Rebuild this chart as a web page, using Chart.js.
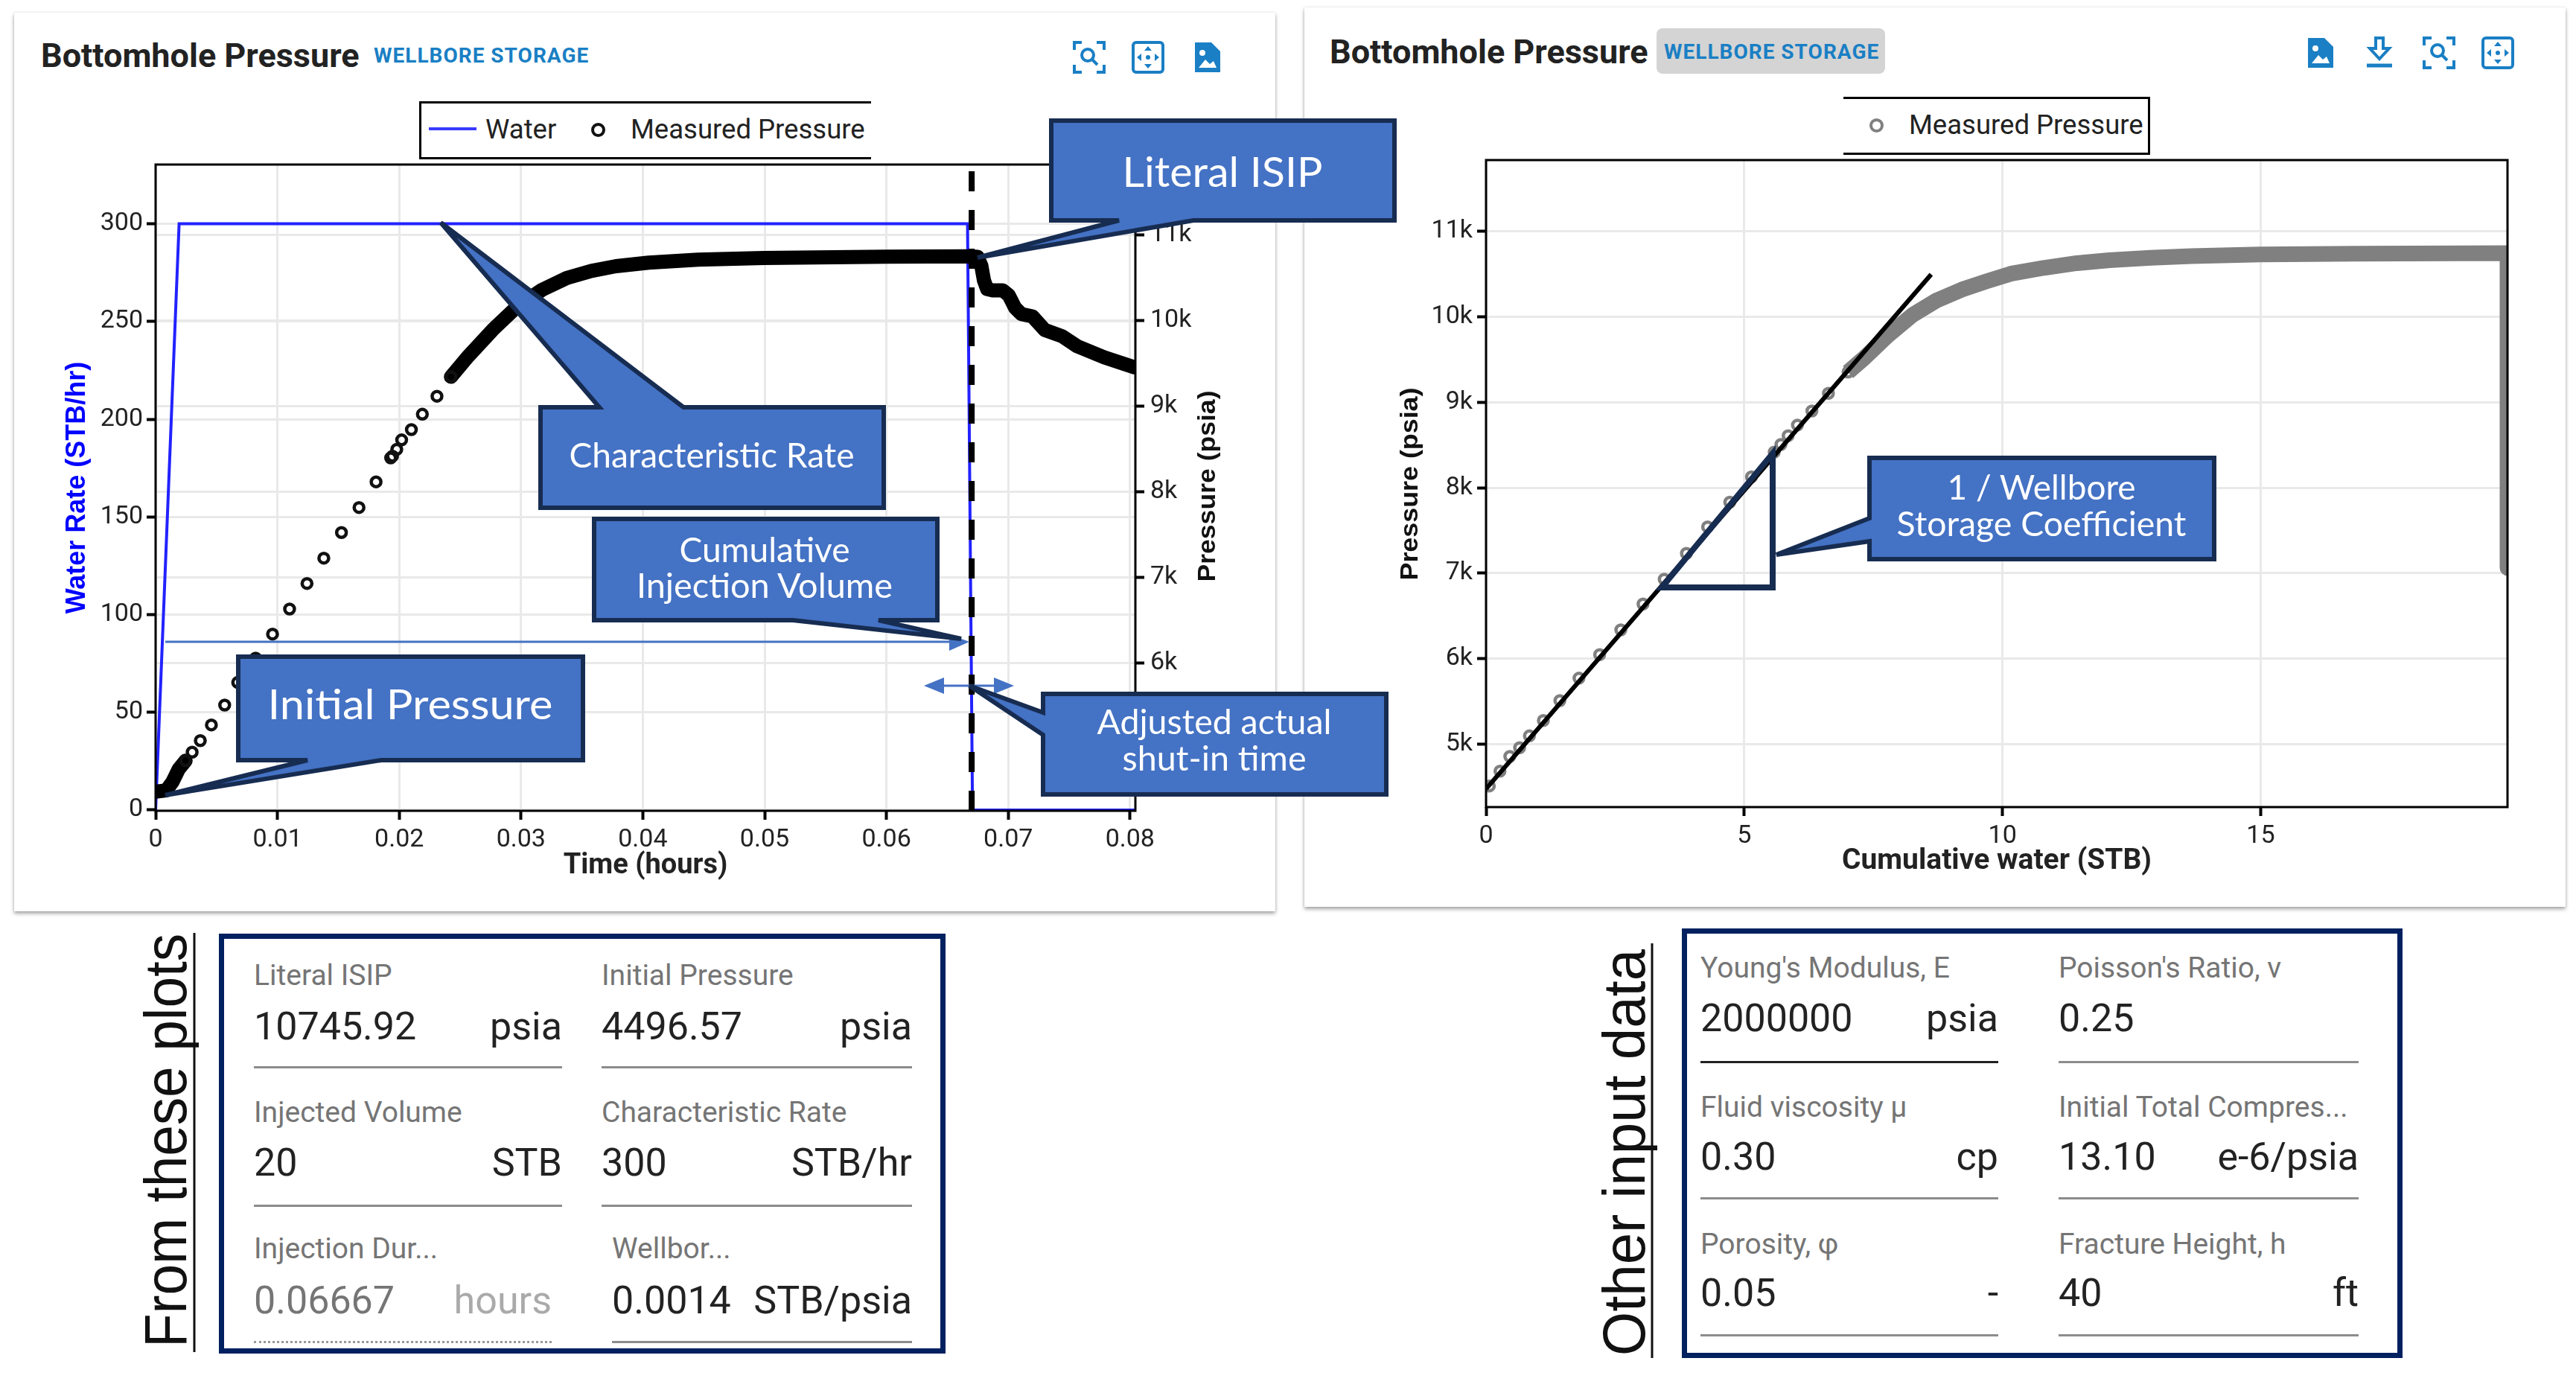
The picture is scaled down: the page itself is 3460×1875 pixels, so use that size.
<!DOCTYPE html>
<html>
<head>
<meta charset="utf-8">
<title>Bottomhole Pressure</title>
<script src="https://cdn.jsdelivr.net/npm/chart.js@4"></script>
<style>
    html, body { margin: 0; padding: 0; background: #fff; }
    #page { position: relative; width: 3460px; height: 1875px; overflow: hidden; font-family: Roboto, sans-serif; }
    .card { position: absolute; background: #fff; box-shadow: 0 3px 5px rgba(0,0,0,0.35), 0 0 3px rgba(0,0,0,0.1); }
    canvas { position: absolute; }
    .abs { position: absolute; white-space: nowrap; }
    .title { font-weight: 700; font-size: 45px; color: #222; line-height: 50px; }
    .badge { font-weight: 700; font-size: 28px; color: #1a7fc4; line-height: 34px; letter-spacing: 1px; }
    .legend-box { border: 3px solid #000; box-sizing: border-box; }
    .legend-text { font-size: 36.5px; color: #222; line-height: 44px; }
    .dot { position: absolute; width: 11px; height: 11px; border-radius: 50%; box-sizing: content-box; }
    .panel { position: absolute; border: 7px solid #002060; box-sizing: border-box; }
    .f-label { font-size: 39px; color: #757575; line-height: 44px; }
    .f-value { font-size: 52px; color: #222; line-height: 62px; }
    #overlay { position: absolute; left: 0; top: 0; }
    #overlay text { font-family: Lato, sans-serif; fill: #fff; text-anchor: middle; dominant-baseline: central; }
    #overlay .side { font-family: "Liberation Sans", sans-serif; fill: #111; font-size: 80px; }
    #overlay .ytitle { font-family: "Liberation Sans", sans-serif; font-weight: 700; fill: #111; font-size: 33px; }
</style>
</head>
<body>
<div id="page">
    <div class="card" style="left:19px;top:17px;width:1694px;height:1207px"></div>
    <div class="card" style="left:1752px;top:10px;width:1694px;height:1208px"></div>

    <div class="abs title" style="left:55px;top:50px">Bottomhole Pressure</div>
    <div class="abs badge" style="left:502px;top:58px">WELLBORE STORAGE</div>
    <div class="abs" style="left:2225px;top:38px;width:307px;height:61px;background:#d4d4d4;border-radius:8px"></div>
    <div class="abs title" style="left:1786px;top:45px">Bottomhole Pressure</div>
    <div class="abs badge" style="left:2235px;top:53px">WELLBORE STORAGE</div>

    <div class="abs legend-box" style="left:563px;top:136px;width:607px;height:78px;border-right:none"></div>
    <div class="abs" style="left:576px;top:171px;width:64px;height:4px;background:#3a3aff"></div>
    <div class="abs legend-text" style="left:652px;top:152px">Water</div>
    <div class="dot" style="left:794px;top:165px;border:4px solid #111"></div>
    <div class="abs legend-text" style="left:847px;top:152px">Measured Pressure</div>

    <div class="abs legend-box" style="left:2476px;top:130px;width:412px;height:78px;border-left:none"></div>
    <div class="dot" style="left:2511px;top:159px;border:4px solid #808080"></div>
    <div class="abs legend-text" style="left:2564px;top:146px">Measured Pressure</div>

    <canvas id="left-chart" width="1660" height="1010" style="left:40px;top:200px"></canvas>
    <canvas id="right-chart" width="1660" height="1010" style="left:1770px;top:190px"></canvas>

    <div class="panel" id="left-panel" style="left:294px;top:1254px;width:976px;height:564px"></div>
    <div class="panel" id="right-panel" style="left:2259px;top:1247px;width:968px;height:577px"></div>

    <svg id="overlay" width="3460" height="1875" xmlns="http://www.w3.org/2000/svg">
        <defs>
            <g id="ic-zoom" fill="none" stroke="#1a7fc4" stroke-width="4">
                <path d="M3 13V3H13M33 3H43V13M43 33V43H33M13 43H3V33"/>
                <circle cx="21" cy="20" r="8"/><path d="M27 26L34 33"/>
            </g>
            <g id="ic-auto">
                <rect x="3" y="3" width="40" height="40" rx="4" fill="none" stroke="#1a7fc4" stroke-width="4"/>
                <path d="M23 8l5 6h-10zM23 38l5-6h-10zM8 23l6-5v10zM38 23l-6-5v10z" fill="#1a7fc4"/>
                <circle cx="23" cy="23" r="3" fill="#1a7fc4"/>
            </g>
            <g id="ic-file">
                <path d="M6 3H28L40 15V43H6Z" fill="#1a7fc4"/>
                <path d="M11 37L20 26L26 32L31 28L35 37Z" fill="#fff"/>
                <circle cx="16" cy="17" r="4" fill="#fff"/>
            </g>
            <g id="ic-down">
                <path d="M18 3H28V17H36L23 31L10 17H18Z" fill="none" stroke="#1a7fc4" stroke-width="4"/>
                <path d="M6 40H40" stroke="#1a7fc4" stroke-width="5"/>
            </g>
        </defs>
        <use href="#ic-zoom" x="1440" y="54"/><use href="#ic-auto" x="1519" y="54"/><use href="#ic-file" x="1599" y="54"/>
        <use href="#ic-file" x="3094" y="48"/><use href="#ic-down" x="3173" y="48"/><use href="#ic-zoom" x="3253" y="48"/><use href="#ic-auto" x="3332" y="48"/>

        <text class="ytitle" transform="translate(1620,653) rotate(-90)" textLength="257" lengthAdjust="spacingAndGlyphs">Pressure (psia)</text>
        <text class="ytitle" transform="translate(1892,650) rotate(-90)" textLength="259" lengthAdjust="spacingAndGlyphs">Pressure (psia)</text>

        <!-- thin arrows -->
        <line x1="222" y1="862" x2="1280" y2="862" stroke="#4472c4" stroke-width="3"/>
        <path d="M1302 862L1275 852V874Z" fill="#4472c4"/>
        <line x1="1262" y1="921" x2="1340" y2="921" stroke="#4472c4" stroke-width="3"/>
        <path d="M1241 921L1268 910V932Z M1362 921L1335 910V932Z" fill="#4472c4"/>

        <g fill="#4472c4" stroke="#172c51" stroke-width="6" stroke-linejoin="miter">
            <path d="M1412 162H1873V296H1603L1313 346L1503 296H1412Z"/>
            <path d="M726 547H805L592 299L918 547H1187V682H726Z"/>
            <path d="M798 697H1259V833H1180L1291 858L1065 833H798Z"/>
            <path d="M320 882H783V1021H512L222 1068L413 1021H320Z"/>
            <path d="M1401 932H1862V1067H1401V987L1302 921L1401 957Z"/>
            <path d="M2511 615H2974V751H2511V727L2386 745L2511 696Z"/>
        </g>
        <path d="M2232 789H2381V609Z" fill="none" stroke="#172c51" stroke-width="8"/>

        <text x="1642" y="229" font-size="56" textLength="269" lengthAdjust="spacingAndGlyphs">Literal ISIP</text>
        <text x="956" y="610" font-size="46" textLength="383" lengthAdjust="spacingAndGlyphs">Characteristic Rate</text>
        <text x="1027" y="737" font-size="46" textLength="229" lengthAdjust="spacingAndGlyphs">Cumulative</text>
        <text x="1027" y="785" font-size="46" textLength="344" lengthAdjust="spacingAndGlyphs">Injection Volume</text>
        <text x="551" y="944" font-size="56" textLength="383" lengthAdjust="spacingAndGlyphs">Initial Pressure</text>
        <text x="1631" y="968" font-size="46" textLength="315" lengthAdjust="spacingAndGlyphs">Adjusted actual</text>
        <text x="1631" y="1017" font-size="46" textLength="247" lengthAdjust="spacingAndGlyphs">shut-in time</text>
        <text x="2742" y="653" font-size="46" textLength="253" lengthAdjust="spacingAndGlyphs">1 / Wellbore</text>
        <text x="2742" y="702" font-size="46" textLength="389" lengthAdjust="spacingAndGlyphs">Storage Coefficient</text>

        <text class="side" transform="translate(222,1532) rotate(-90)" textLength="556" lengthAdjust="spacingAndGlyphs">From these plots</text>
        <line x1="261" y1="1253" x2="261" y2="1816" stroke="#111" stroke-width="3"/>
        <text class="side" transform="translate(2181,1548) rotate(-90)" textLength="546" lengthAdjust="spacingAndGlyphs">Other input data</text>
        <line x1="2219" y1="1267" x2="2219" y2="1824" stroke="#111" stroke-width="3"/>
    </svg>
</div>

<script>
    // Left plot: water rate vs time
    const waterTime = [0, 0.00193, 0.06666, 0.06707, 0.0804];
    const waterRate = [0, 300, 300, 0, 0];

    // shut-in marker
    const shutInTime = [0.067, 0.067];
    const shutInRate = [-0.4, 330];

    // pressure vs time, the separate circles
    const sparseTime = [0.00246, 0.003, 0.00367, 0.00458, 0.00567, 0.00674, 0.00821, 0.0096, 0.011, 0.01243, 0.01381, 0.01526,
        0.0167, 0.0181, 0.0193, 0.01945, 0.0198, 0.0202, 0.0210, 0.0219, 0.0231, 0.02425];
    const sparsePressure = [4863, 4963, 5098, 5281, 5513, 5777, 6061, 6342, 6635, 6933, 7229, 7528,
        7820, 8120, 8400, 8420, 8500, 8610, 8730, 8910, 9120, 9347];

    // pressure vs time, where the circles run together
    const startTime = [0, 0.00087, 0.00139, 0.0019, 0.00246];
    const startPressure = [4502, 4516, 4617, 4765, 4863];
    const plateauTime = [0.02425, 0.02567, 0.02768, 0.02971, 0.03173, 0.03376, 0.03578, 0.0378, 0.04049, 0.04455, 0.04995, 0.06006, 0.0668,
        0.06748, 0.06779, 0.06801, 0.06827, 0.06872, 0.06954, 0.07005, 0.07056, 0.07107, 0.07199, 0.07301, 0.07443, 0.07566, 0.07789, 0.08034];
    const plateauPressure = [9347, 9587, 9896, 10170, 10363, 10501, 10584, 10639, 10680, 10715, 10735, 10750, 10755,
        10748, 10646, 10472, 10371, 10357, 10357, 10298, 10154, 10081, 10052, 9893, 9820, 9704, 9574, 9458];

    // Right plot: pressure vs cumulative water
    const cumSparse = [0.064, 0.27, 0.46, 0.65, 0.84, 1.11, 1.43, 1.8, 2.2, 2.61, 3.04, 3.45, 3.88, 4.29, 4.72, 5.14, 5.58, 5.71, 5.85, 6.03, 6.31, 6.63, 7.01];
    const pressureSparse = [4512, 4685, 4857, 4960, 5098, 5277, 5511, 5773, 6048, 6338, 6641, 6930, 7233, 7543, 7832, 8128, 8417, 8507, 8610, 8734, 8899, 9106, 9354];
    const cumDense = [7.01, 7.3, 7.78, 8.26, 8.73, 9.21, 9.69, 10.16, 10.8, 11.44, 12.07, 12.87, 13.66, 15, 16.85, 19.78, 19.78, 19.78];
    const pressureDense = [9354, 9506, 9781, 10022, 10194, 10318, 10415, 10504, 10573, 10628, 10663, 10690, 10711, 10731, 10738, 10745, 8800, 7063];
    const tangentCum = [0, 8.62];
    const tangentPressure = [4478, 10497];

    // tick lists
    const timeTicks = [0, 0.01, 0.02, 0.03, 0.04, 0.05, 0.06, 0.07, 0.08];
    const rateTicks = [0, 50, 100, 150, 200, 250, 300];
    const leftPressureTicks = [6000, 7000, 8000, 9000, 10000, 11000];
    const rightPressureTicks = [5000, 6000, 7000, 8000, 9000, 10000, 11000];
    const cumTicks = [0, 5, 10, 15];

    // input boxes under the plots
    const plotLabels = ['Literal ISIP', 'Initial Pressure', 'Injected Volume', 'Characteristic Rate', 'Injection Dur...', 'Wellbor...'];
    const plotValues = ['10745.92', '4496.57', '20', '300', '0.06667', '0.0014'];
    const plotUnits = ['psia', 'psia', 'STB', 'STB/hr', 'hours', 'STB/psia'];
    const inputLabels = ["Young's Modulus, E", "Poisson's Ratio, v", 'Fluid viscosity µ', 'Initial Total Compres...', 'Porosity, φ', 'Fracture Height, h'];
    const inputValues = ['2000000', '0.25', '0.30', '13.10', '0.05', '40'];
    const inputUnits = ['psia', '', 'cp', 'e-6/psia', '-', 'ft'];

    const zip = (xs, ys) => xs.map((x, i) => ({ x, y: ys[i] }));
    const kLabel = v => v / 1000 + 'k';

    const plotBorder = {
        id: 'plotBorder',
        afterDatasetsDraw(chart) {
            const { ctx, chartArea: a } = chart;
            ctx.save();
            ctx.strokeStyle = '#000';
            ctx.lineWidth = 3;
            ctx.strokeRect(a.left, a.top, a.right - a.left, a.bottom - a.top);
            ctx.restore();
        }
    };

    const axis = (ticks, min, max, size, extra) => Object.assign({
        type: 'linear',
        min,
        max,
        afterBuildTicks: s => { s.ticks = ticks.map(value => ({ value })); },
        // fixed box size, and no extra room for the first and last tick label
        afterFit: s => {
            if (s.isHorizontal()) {
                s.height = size;
            } else {
                s.width = size;
                s.paddingTop = 0;
                s.paddingBottom = 0;
            }
        },
        border: { display: false },
        grid: { color: '#e9e9e9', lineWidth: 3, tickColor: '#000', tickWidth: 4, tickLength: 12 }
    }, extra);

    const tickFont = { family: 'Roboto', size: 34 };

    new Chart(document.getElementById('left-chart'), {
        type: 'scatter',
        plugins: [plotBorder],
        data: {
            datasets: [
                { label: 'Shut-in', data: zip(shutInTime, shutInRate), yAxisID: 'y', showLine: true, pointRadius: 0, borderColor: '#000', borderWidth: 8, borderDash: [27, 25], clip: 0, order: 1 },
                { label: 'Measured Pressure', data: zip(sparseTime, sparsePressure), yAxisID: 'y2', pointRadius: 6.5, pointBorderWidth: 4.5, pointBorderColor: '#111', pointBackgroundColor: 'transparent', order: 2 },
                { label: 'Measured Pressure start', data: zip(startTime, startPressure), yAxisID: 'y2', showLine: true, pointRadius: 0, borderColor: '#000', borderWidth: 19, borderCapStyle: 'round', borderJoinStyle: 'round', clip: 0, order: 2 },
                { label: 'Measured Pressure plateau', data: zip(plateauTime, plateauPressure), yAxisID: 'y2', showLine: true, pointRadius: 0, borderColor: '#000', borderWidth: 19, borderCapStyle: 'round', borderJoinStyle: 'round', clip: 0, order: 2 },
                { label: 'Water', data: zip(waterTime, waterRate), yAxisID: 'y', showLine: true, pointRadius: 0, borderColor: '#2222ff', borderWidth: 4, clip: 0, order: 3 }
            ]
        },
        options: {
            responsive: false,
            animation: false,
            layout: { autoPadding: false, padding: { top: 21 } },
            plugins: { legend: { display: false }, tooltip: { enabled: false } },
            scales: {
                x: axis(timeTicks, 0, 0.08044, 121, {
                    ticks: { font: tickFont, color: '#222', padding: 7, maxRotation: 0, autoSkip: false, callback: v => String(v) },
                    title: { display: true, text: 'Time (hours)', font: { family: 'Roboto', size: 38, weight: 700 }, color: '#222', padding: { top: 0, bottom: 24 } }
                }),
                y: axis(rateTicks, -0.4, 330.3, 169, {
                    position: 'left',
                    ticks: { font: tickFont, color: '#222', padding: 5, autoSkip: false, callback: v => String(v) },
                    title: { display: true, text: 'Water Rate (STB/hr)', font: { family: 'Liberation Sans', size: 36, weight: 700 }, color: '#0000ff', padding: { top: 42, bottom: 0 } }
                }),
                y2: axis(leftPressureTicks, 4278, 11826, 175, {
                    position: 'right',
                    ticks: { font: tickFont, color: '#222', padding: 8, autoSkip: false, callback: kLabel }
                })
            }
        }
    });

    new Chart(document.getElementById('right-chart'), {
        type: 'scatter',
        plugins: [plotBorder],
        data: {
            datasets: [
                { label: 'Tangent', data: zip(tangentCum, tangentPressure), showLine: true, pointRadius: 0, borderColor: '#000', borderWidth: 6, order: 1 },
                { label: 'Measured Pressure', data: zip(cumSparse, pressureSparse), pointRadius: 6.5, pointBorderWidth: 4.5, pointBorderColor: '#808080', pointBackgroundColor: 'transparent', order: 2 },
                { label: 'Measured Pressure dense', data: zip(cumDense, pressureDense), showLine: true, pointRadius: 0, borderColor: '#808080', borderWidth: 21, borderJoinStyle: 'round', clip: 0, order: 2 }
            ]
        },
        options: {
            responsive: false,
            animation: false,
            layout: { autoPadding: false, padding: { top: 25, right: 62 } },
            plugins: { legend: { display: false }, tooltip: { enabled: false } },
            scales: {
                x: axis(cumTicks, 0, 19.78, 116, {
                    ticks: { font: tickFont, color: '#222', padding: 7, maxRotation: 0, autoSkip: false, callback: v => String(v) },
                    title: { display: true, text: 'Cumulative water (STB)', font: { family: 'Roboto', size: 39, weight: 700 }, color: '#222', padding: { top: 0, bottom: 19 } }
                }),
                y: axis(rightPressureTicks, 4265, 11834, 226, {
                    position: 'left',
                    ticks: { font: tickFont, color: '#222', padding: 6, autoSkip: false, callback: kLabel }
                })
            }
        }
    });

    /*
        * Writes the six label / value / unit fields into one of the boxes
        * Row and column positions are in page pixels, minus the box origin
    */
    function fillPanel(panel, originX, originY, cols, rows, labels, values, units) {
        labels.forEach((label, i) => {
            const col = cols[i % 2];
            const row = rows[Math.floor(i / 2)];
            const wide = col.thirdRow && i >= 4 ? col.thirdRow : col;
            const put = (cls, text, css) => {
                const el = document.createElement('div');
                el.className = 'abs ' + cls;
                el.textContent = text;
                el.style.cssText = css;
                panel.appendChild(el);
                return el;
            };
            const disabled = units[i] === 'hours';
            const edge = disabled ? 741 : wide.right;
            const left = wide.left - originX - 7;
            const right = originX + 7 + panel.offsetWidth - 14 - edge;
            put('f-label', label, `left:${left}px;top:${row.label - originY - 7 - 22}px`);
            put('f-value', values[i], `left:${left}px;top:${row.value - originY - 7 - 31}px;${disabled ? 'color:#757575' : ''}`);
            put('f-value', units[i], `right:${right}px;top:${row.value - originY - 7 - 31}px;${disabled ? 'color:#aaa' : ''}`);
            const rule = disabled ? 'border-top:3px dotted #999' : (label.startsWith('Young') ? 'border-top:3px solid #222' : 'border-top:3px solid #8c8c8c');
            put('', '', `left:${left}px;width:${edge - wide.left}px;top:${row.line - originY - 7}px;${rule}`);
        });
    }

    fillPanel(document.getElementById('left-panel'), 294, 1254,
        [{ left: 341, right: 755 }, { left: 808, right: 1225, thirdRow: { left: 822, right: 1225 } }],
        [{ label: 1310, value: 1379, line: 1432 }, { label: 1494, value: 1562, line: 1618 }, { label: 1677, value: 1747, line: 1801 }],
        plotLabels, plotValues, plotUnits);

    fillPanel(document.getElementById('right-panel'), 2259, 1247,
        [{ left: 2284, right: 2684 }, { left: 2765, right: 3168 }],
        [{ label: 1300, value: 1368, line: 1425 }, { label: 1487, value: 1554, line: 1608 }, { label: 1671, value: 1737, line: 1792 }],
        inputLabels, inputValues, inputUnits);
</script>
</body>
</html>
